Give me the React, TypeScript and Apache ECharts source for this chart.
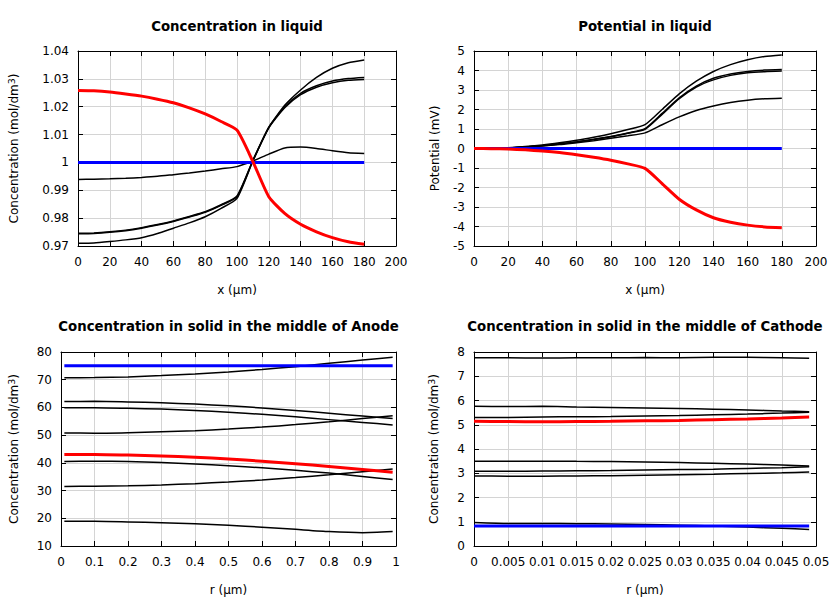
import React, { useEffect, useRef } from "react";
import * as echarts from "echarts";

// ---------- data ----------
const X_LIQ = [0, 10, 20, 30, 40, 50, 60, 70, 80, 90, 100, 110, 120, 130, 140, 150, 160, 170, 180];

// Concentration in liquid
const CL_RED = [1.0258, 1.0257, 1.0253, 1.0246, 1.0238, 1.0227, 1.0214, 1.0196, 1.0174, 1.0147, 1.0116, 1.0003, 0.9877, 0.9817, 0.9778, 0.9751, 0.973, 0.9715, 0.9706];
const CL_BLUE = [1, 1, 1, 1, 1, 1, 1, 1, 1, 1, 1, 1, 1, 1, 1, 1, 1, 1, 1];
const CL_B1 = [0.971, 0.9711, 0.9716, 0.9722, 0.973, 0.9745, 0.9764, 0.9783, 0.9805, 0.9835, 0.9871, 1.0005, 1.0125, 1.0205, 1.026, 1.0305, 1.0338, 1.0358, 1.0368];
const CL_B2 = [0.9746, 0.9747, 0.9751, 0.9757, 0.9766, 0.9777, 0.979, 0.9806, 0.9823, 0.9848, 0.988, 1.0008, 1.0127, 1.02, 1.0248, 1.0275, 1.0292, 1.0301, 1.0305];
const CL_B3 = [0.9744, 0.9745, 0.9749, 0.9755, 0.9764, 0.9775, 0.9788, 0.9804, 0.9821, 0.9846, 0.9877, 1.0006, 1.0124, 1.0196, 1.0243, 1.027, 1.0286, 1.0295, 1.0298];
const CL_B4 = [0.9939, 0.994, 0.9941, 0.9943, 0.9946, 0.995, 0.9956, 0.9962, 0.9969, 0.9977, 0.9985, 1.0005, 1.003, 1.0052, 1.0055, 1.005, 1.0042, 1.0035, 1.0032];

// Potential in liquid
const PL_RED = [0, -0.01, -0.03, -0.07, -0.13, -0.21, -0.32, -0.45, -0.6, -0.79, -1.02, -1.8, -2.6, -3.15, -3.55, -3.78, -3.93, -4.02, -4.06];
const PL_BLUE = [0, 0, 0, 0, 0, 0, 0, 0, 0, 0, 0, 0, 0, 0, 0, 0, 0, 0, 0];
const PL_B1 = [0, 0.01, 0.04, 0.1, 0.18, 0.29, 0.42, 0.58, 0.76, 0.97, 1.22, 2.0, 2.8, 3.45, 3.95, 4.3, 4.55, 4.72, 4.8];
const PL_B2 = [0, 0.01, 0.03, 0.08, 0.15, 0.24, 0.34, 0.47, 0.62, 0.8, 1.02, 1.8, 2.6, 3.2, 3.6, 3.82, 3.95, 4.02, 4.05];
const PL_B3 = [0, 0.01, 0.03, 0.08, 0.14, 0.23, 0.33, 0.46, 0.6, 0.78, 0.98, 1.75, 2.55, 3.15, 3.52, 3.75, 3.88, 3.94, 3.97];
const PL_B4 = [0, 0.01, 0.03, 0.07, 0.13, 0.2, 0.3, 0.4, 0.52, 0.65, 0.8, 1.22, 1.62, 1.95, 2.18, 2.36, 2.48, 2.55, 2.58];

// Concentration in solid, anode
const R_AN = [0.01, 0.1, 0.2, 0.3, 0.4, 0.5, 0.6, 0.7, 0.8, 0.9, 0.99];
const AN_BLUE = [75, 75, 75, 75, 75, 75, 75, 75, 75, 75, 75];
const AN_RED = [43.0, 43.0, 42.8, 42.5, 42.0, 41.4, 40.6, 39.7, 38.7, 37.6, 36.6];
const AN_B1 = [70.7, 70.8, 71.0, 71.5, 72.1, 72.8, 73.7, 74.7, 75.9, 77.1, 78.1];
const AN_B2 = [62.1, 62.2, 62.0, 61.7, 61.2, 60.6, 59.8, 58.9, 57.9, 56.9, 56.0];
const AN_B3 = [59.9, 59.9, 59.7, 59.4, 58.9, 58.3, 57.5, 56.6, 55.6, 54.6, 53.7];
const AN_B4 = [50.8, 50.7, 50.9, 51.2, 51.6, 52.2, 52.9, 53.8, 54.8, 56.0, 57.0];
const AN_B5 = [40.5, 40.6, 40.5, 40.1, 39.6, 39.0, 38.2, 37.3, 36.3, 35.1, 34.0];
const AN_B6 = [31.5, 31.6, 31.7, 32.0, 32.5, 33.1, 33.8, 34.7, 35.7, 36.8, 37.8];
const AN_B7 = [18.9, 18.9, 18.7, 18.4, 18.0, 17.5, 16.8, 16.0, 15.2, 14.8, 15.2];

// Concentration in solid, cathode
const R_CA = [0, 0.005, 0.01, 0.015, 0.02, 0.025, 0.03, 0.035, 0.04, 0.045, 0.049];
const CA_BLUE = [0.82, 0.82, 0.82, 0.82, 0.82, 0.82, 0.82, 0.82, 0.82, 0.82, 0.82];
const CA_RED = [5.14, 5.13, 5.12, 5.13, 5.14, 5.16, 5.18, 5.21, 5.24, 5.28, 5.32];
const CA_B1 = [7.76, 7.76, 7.75, 7.76, 7.76, 7.77, 7.76, 7.78, 7.78, 7.76, 7.74];
const CA_B2 = [5.76, 5.75, 5.76, 5.73, 5.71, 5.69, 5.67, 5.64, 5.61, 5.57, 5.54];
const CA_B3 = [5.3, 5.3, 5.32, 5.33, 5.34, 5.36, 5.38, 5.41, 5.44, 5.48, 5.52];
const CA_B4 = [3.5, 3.5, 3.5, 3.49, 3.48, 3.46, 3.44, 3.41, 3.38, 3.34, 3.3];
const CA_B5 = [3.08, 3.08, 3.09, 3.1, 3.11, 3.13, 3.15, 3.17, 3.2, 3.23, 3.27];
const CA_B6 = [2.89, 2.88, 2.88, 2.89, 2.9, 2.92, 2.94, 2.96, 2.99, 3.02, 3.05];
const CA_B7 = [0.97, 0.93, 0.93, 0.92, 0.91, 0.89, 0.86, 0.82, 0.78, 0.73, 0.68];

const TITLES = [
  "Concentration in liquid",
  "Potential in liquid",
  "Concentration in solid in the middle of Anode",
  "Concentration in solid in the middle of Cathode",
];
const X_NAMES = ["x (µm)", "x (µm)", "r (µm)", "r (µm)"];
const Y_NAMES = ["Concentration (mol/dm{sup|3})", "Potential (mV)", "Concentration (mol/dm{sup|3})", "Concentration (mol/dm{sup|3})"];

// ---------- helpers ----------
const FONT = "DejaVu Sans";
const pairs = (xs: number[], ys: number[]) => xs.map((x, i) => [x, ys[i]]);

const GRIDS = [
  { left: 78, top: 51, width: 318, height: 195 },
  { left: 474, top: 51, width: 342, height: 195 },
  { left: 61, top: 352, width: 335, height: 194 },
  { left: 474, top: 352, width: 342, height: 194 },
];
const XR = [
  { min: 0, max: 200, interval: 20 },
  { min: 0, max: 200, interval: 20 },
  { min: 0, max: 1, interval: 0.1 },
  { min: 0, max: 0.05, interval: 0.005 },
];
const YR = [
  { min: 0.97, max: 1.04, interval: 0.01 },
  { min: -5, max: 5, interval: 1 },
  { min: 10, max: 80, interval: 10 },
  { min: 0, max: 8, interval: 1 },
];
const Y_GAPS = [57, 33, 40, 33];

export default function App() {
  const ref = useRef<HTMLDivElement>(null);
  useEffect(() => {
    if (!ref.current) return;
    const chart = echarts.init(ref.current, undefined, { renderer: "svg" });

    const xAxis: any[] = [];
    const yAxis: any[] = [];
    GRIDS.forEach((_, g) => {
      const line = { show: true, lineStyle: { color: "#000", width: 1 } };
      const tick = { show: true, inside: true, length: 5, lineStyle: { color: "#000", width: 1 } };
      xAxis.push({
        type: "value", gridIndex: g, position: "bottom", ...XR[g],
        axisLine: { ...line, onZero: false }, axisTick: tick,
        axisLabel: { color: "#000", fontFamily: FONT, fontSize: 12, margin: 10, showMinLabel: true, showMaxLabel: true },
        splitLine: { show: true, lineStyle: { color: "#d4d4d4", width: 1 } },
        name: X_NAMES[g], nameLocation: "middle", nameGap: 38,
        nameTextStyle: { color: "#000", fontFamily: FONT, fontSize: 12 },
      });
      xAxis.push({
        type: "value", gridIndex: g, position: "top", ...XR[g],
        axisLine: { ...line, onZero: false }, axisTick: tick,
        axisLabel: { show: false }, splitLine: { show: false },
      });
      yAxis.push({
        type: "value", gridIndex: g, position: "left", ...YR[g],
        axisLine: { ...line, onZero: false }, axisTick: tick,
        axisLabel: { color: "#000", fontFamily: FONT, fontSize: 12, margin: 9 },
        splitLine: { show: true, lineStyle: { color: "#d4d4d4", width: 1 } },
        name: Y_NAMES[g], nameLocation: "middle", nameGap: Y_GAPS[g], nameRotate: 90,
        nameTextStyle: {
          color: "#000", fontFamily: FONT, fontSize: 12,
          rich: { sup: { color: "#000", fontFamily: FONT, fontSize: 9.5, verticalAlign: "top", lineHeight: 15 } },
        },
      });
      yAxis.push({
        type: "value", gridIndex: g, position: "right", ...YR[g],
        axisLine: { ...line, onZero: false }, axisTick: tick,
        axisLabel: { show: false }, splitLine: { show: false },
      });
    });

    const series: any[] = [];
    const add = (g: number, xs: number[], ys: number[], color: string, width: number) => {
      series.push({
        type: "line", xAxisIndex: g * 2, yAxisIndex: g * 2,
        data: pairs(xs, ys), showSymbol: false, symbol: "none",
        smooth: 0.2,
        lineStyle: { color, width }, z: width > 2 ? 3 : 2,
      });
    };
    const BLACK = "#000";
    [CL_B1, CL_B2, CL_B3, CL_B4].forEach((d) => add(0, X_LIQ, d, BLACK, 1.5));
    add(0, X_LIQ, CL_BLUE, "#0000ff", 3);
    add(0, X_LIQ, CL_RED, "#ff0000", 3);

    [PL_B1, PL_B2, PL_B3, PL_B4].forEach((d) => add(1, X_LIQ, d, BLACK, 1.5));
    add(1, X_LIQ, PL_BLUE, "#0000ff", 3);
    add(1, X_LIQ, PL_RED, "#ff0000", 3);

    [AN_B1, AN_B2, AN_B3, AN_B4, AN_B5, AN_B6, AN_B7].forEach((d) => add(2, R_AN, d, BLACK, 1.5));
    add(2, R_AN, AN_BLUE, "#0000ff", 3);
    add(2, R_AN, AN_RED, "#ff0000", 3);

    [CA_B1, CA_B2, CA_B3, CA_B4, CA_B5, CA_B6, CA_B7].forEach((d) => add(3, R_CA, d, BLACK, 1.5));
    add(3, R_CA, CA_BLUE, "#0000ff", 3);
    add(3, R_CA, CA_RED, "#ff0000", 3);

    const title = TITLES.map((t, g) => ({
      text: t,
      left: GRIDS[g].left + GRIDS[g].width / 2,
      top: g < 2 ? 19.5 : 319.5,
      textAlign: "center",
      padding: 0,
      textStyle: { fontFamily: FONT, fontSize: 13.3, fontWeight: "bold", color: "#000" },
    }));

    chart.setOption({
      animation: false,
      backgroundColor: "#fff",
      title,
      grid: GRIDS.map((g) => ({ ...g, containLabel: false })),
      xAxis,
      yAxis,
      series,
    });
    return () => chart.dispose();
  }, []);
  return <div ref={ref} style={{ position: "fixed", left: 0, top: 0, width: 840, height: 600 }} />;
}
